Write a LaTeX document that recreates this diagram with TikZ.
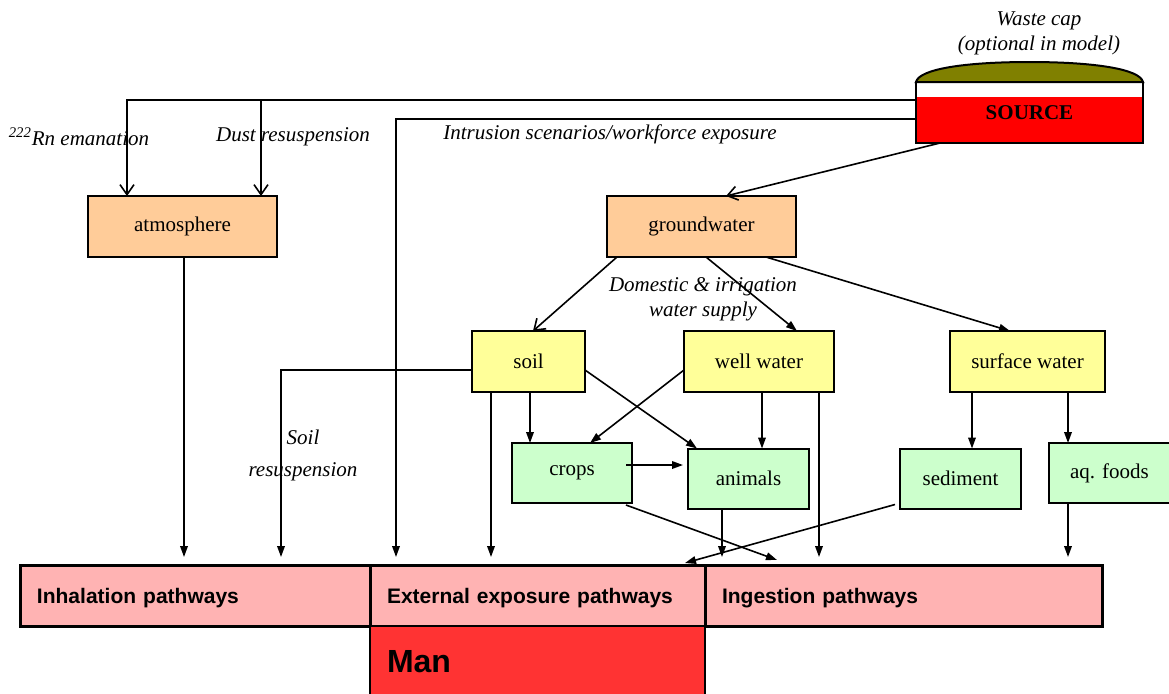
\documentclass[tikz,border=0pt]{standalone}
\usepackage{fontspec}
\setmainfont{Liberation Serif}
\setsansfont{Liberation Sans}
\usetikzlibrary{arrows.meta, calc}
\usepackage{xcolor}
\definecolor{peach}{HTML}{FFCC99}
\definecolor{lemon}{HTML}{FFFF99}
\definecolor{mint}{HTML}{CCFFCC}
\definecolor{pathpink}{HTML}{FFB3B3}
\definecolor{manred}{HTML}{FF3333}
\definecolor{srcred}{HTML}{FF0000}
\definecolor{capolive}{HTML}{808000}
\tikzstyle{box} = [rectangle, draw=black, line width=1pt, outer sep=0pt, minimum height=30.5pt,
    text centered, font=\fontsize{10.5}{12.5}\selectfont]
\tikzstyle{peachbox} = [box, fill=peach]
\tikzstyle{yellowbox} = [box, fill=lemon]
\tikzstyle{greenbox} = [box, fill=mint, minimum height=30pt]
\tikzstyle{pathbox} = [rectangle, draw=black, line width=1.5pt, outer sep=0pt, fill=pathpink, minimum height=30.5pt,
    align=left, inner xsep=8.5pt, text depth=0pt, font=\sffamily\bfseries\fontsize{10.5}{12.5}\selectfont]
\tikzstyle{srcbox} = [rectangle, draw=black, line width=1pt, outer sep=0pt, fill=srcred,
    font=\bfseries\fontsize{10.5}{12.5}\selectfont,
    path picture={\fill[white] (path picture bounding box.north west) rectangle ([yshift=-7.5pt]path picture bounding box.north east);}]
\tikzstyle{arrow} = [line width=0.8pt, -{Triangle[length=5.5pt,width=3.8pt]}]
\tikzstyle{openarrow} = [line width=0.8pt, -{Straight Barb[length=5pt,width=7pt]}]
\tikzstyle{tobar} = [arrow, shorten >=4pt]
\tikzstyle{lbl} = [font=\fontsize{10.5}{12.5}\selectfont\itshape, align=center]

\begin{document}
\begin{tikzpicture}[x=0.5pt, y=-0.5pt]
\useasboundingbox (0,0) rectangle (1169,693);

% source with waste cap
\node (src) [srcbox, minimum width=113.5pt, minimum height=30.5pt] at (1029.5,112.5) {SOURCE};
\draw[line width=1pt, fill=capolive] (src.north west) .. controls (919,69) and (965,62) .. (1029.5,62)
    .. controls (1094,62) and (1140,69) .. (src.north east) -- cycle;
\node (caplbl) [lbl] at (1039,33) {Waste cap\\(optional in model)};

% compartments
\node (atm) [peachbox, minimum width=94.5pt] at (182.5,226.5) {atmosphere};
\node (gw) [peachbox, minimum width=94.5pt] at (701.5,226.5) {groundwater};
\node (soil) [yellowbox, minimum width=56.5pt] at (528.5,361.5) {soil};
\node (well) [yellowbox, minimum width=75pt] at (759,361.5) {well water};
\node (surf) [yellowbox, minimum width=77.5pt] at (1027.5,361.5) {surface water};
\node (crops) [greenbox, minimum width=60pt] at (572,473) {crops};
\node (anim) [greenbox, minimum width=60.5pt] at (748.5,478.5) {animals};
\node (sed) [greenbox, minimum width=60.5pt] at (960.5,478.5) {sediment};
\node (aqf) [greenbox, minimum width=60.5pt] at (1109.5,473) {aq. foods};

% pathways
\node (inh) [pathbox, text width=158pt] at (195,595.5) {Inhalation pathways};
\node (ext) [pathbox, text width=150.5pt] at (537.5,595.5) {External exposure pathways};
\node (ing) [pathbox, text width=181.5pt] at (903.5,595.5) {Ingestion pathways};
\node (man) [rectangle, fill=manred, draw=black, line width=1pt, outer sep=0pt, minimum height=35pt, text width=150.5pt,
    inner xsep=8.5pt, align=left, text depth=0pt, font=\sffamily\bfseries\fontsize{16}{18}\selectfont] at (537.5,661) {Man};

% labels
\node (rnlbl) [lbl] at (79,137) {\textsuperscript{222}Rn emanation};
\node (dustlbl) [lbl] at (293,137) {Dust resuspension};
\node (intrlbl) [lbl] at (610,134) {Intrusion scenarios/workforce exposure};
\node (domlbl) [lbl] at (703,299.5) {Domestic \& irrigation\\water supply};
\node (soillbl) [lbl, font=\fontsize{10.5}{16}\selectfont\itshape] at (303,455) {Soil\\resuspension};

% from source
\draw[openarrow] ($(src.west)+(0,-12.5)$) -| ($(atm.north)+(-55.5,0)$);
\draw[openarrow] ($(atm.north)+(78.5,-96)$) -- ($(atm.north)+(78.5,0)$);
\draw[tobar] ($(src.west)+(0,6.5)$) -| ($(ext.north west)+(26,0)$);
\draw[openarrow] ($(src.south west)+(24,0)$) -- ($(gw.north)+(24.5,0)$);

% groundwater
\draw[openarrow] ($(gw.south west)+(10,0)$) -- ($(soil.north)+(4.5,0)$);
\draw[arrow] ($(gw.south)+(4.5,0)$) -- ($(well.north)+(38,0)$);
\draw[arrow] ($(gw.south)+(64.5,0)$) -- ($(surf.north)+(-17.5,0)$);

% atmosphere and soil
\draw[tobar] ($(atm.south)+(1.5,0)$) -- ($(inh.north west)+(164,0)$);
\draw[tobar] ($(soil.west)+(0,8.5)$) -| ($(inh.north west)+(261,0)$);
\draw[tobar] ($(soil.south west)+(19,0)$) -- ($(ext.north west)+(121,0)$);
\draw[arrow] ($(soil.south)+(1.5,0)$) -- ($(crops.north)+(-42,0)$);
\draw[arrow] ($(soil.east)+(0,8.5)$) -- ($(anim.north west)+(9,0)$);

% well water
\draw[arrow] ($(well.west)+(0,8.5)$) -- ($(crops.north)+(18,0)$);
\draw[arrow] ($(well.south)+(3,0)$) -- ($(anim.north)+(13.5,0)$);
\draw[tobar] ($(well.south)+(60,0)$) -- ($(ing.north west)+(114,0)$);

% foods
\draw[arrow] ($(crops.east)+(-6,-8)$) -- ($(anim.west)+(-5,-13.5)$);
\draw[arrow] ($(crops.south east)+(-6,2)$) -- ($(ing.north west)+(72,-5)$);
\draw[tobar] ($(anim.south)+(-26.5,0)$) -- ($(ing.north west)+(17,0)$);
\draw[arrow] ($(sed.south west)+(-5,-4)$) -- ($(ext.north east)+(-20,-2)$);

% surface water
\draw[arrow] ($(surf.south)+(-55.5,0)$) -- ($(sed.north)+(11.5,0)$);
\draw[arrow] ($(surf.south)+(40.5,0)$) -- ($(aqf.north)+(-41.5,0)$);
\draw[tobar] ($(aqf.south)+(-41.5,0)$) -- ($(ing.north west)+(363,0)$);
\end{tikzpicture}
\end{document}
